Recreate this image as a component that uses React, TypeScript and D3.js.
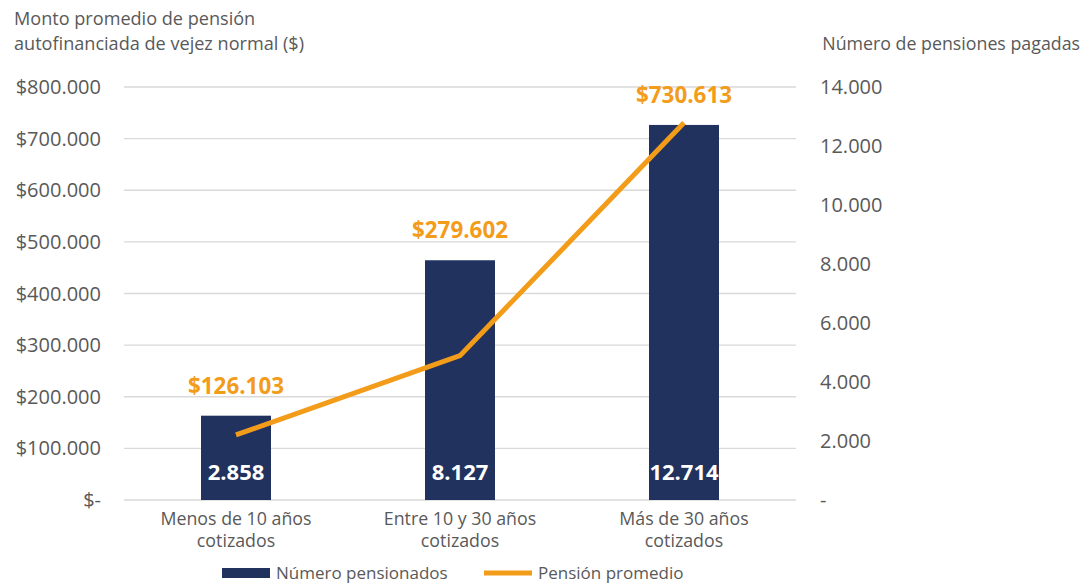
import React from "react";
import * as d3 from "d3";

const categories = [["Menos de 10 años", "cotizados"], ["Entre 10 y 30 años", "cotizados"], ["Más de 30 años", "cotizados"]];
const pensionados = [2858, 8127, 12714];
const pensionPromedio = [126103, 279602, 730613];
const leftTicks = [0, 100000, 200000, 300000, 400000, 500000, 600000, 700000, 800000];
const rightTicks = [0, 2000, 4000, 6000, 8000, 10000, 12000, 14000];

const W = 1085, H = 583;
const left = 124, right = 796, top = 87, bottom = 500;
const FONT = "'Open Sans', 'Noto Sans', sans-serif";
const GREY = "#595959";
const NAVY = "#22325f";
const ORANGE = "#f39c1a";

const fmt = (v: number) => v.toLocaleString("de-DE");

export default function App() {
  const x = d3.scaleBand<number>().domain(d3.range(categories.length)).range([left, right]).paddingInner(0.6875).paddingOuter(0.34375);
  const yL = d3.scaleLinear().domain([0, 800000]).range([bottom, top]);
  const yR = d3.scaleLinear().domain([0, 14000]).range([bottom, top]);
  const cx = (i: number) => (x(i) as number) + x.bandwidth() / 2;
  const line = d3.line<number>().x((_, i) => cx(i)).y((d) => yL(d));

  return (
    <svg width={W} height={H} style={{ position: "absolute", left: 0, top: 0, fontFamily: FONT }}>
      <rect width={W} height={H} fill="#fff" />
      <text x={14} y={25} fontSize={18.1} fill={GREY}>Monto promedio de pensión</text>
      <text x={14} y={50} fontSize={18.1} fill={GREY}>autofinanciada de vejez normal ($)</text>
      <text x={1080} y={50} fontSize={17.8} fill={GREY} textAnchor="end">Número de pensiones pagadas</text>
      {leftTicks.map((t) => (
        <g key={t}>
          <line x1={left} x2={right} y1={yL(t)} y2={yL(t)} stroke="#d9d9d9" strokeWidth={1.3} />
          <text x={101} y={yL(t) + 7} fontSize={20} fill={GREY} textAnchor="end">{t === 0 ? "$-" : "$" + fmt(t)}</text>
        </g>
      ))}
      {rightTicks.map((t) => (
        <text key={t} x={820} y={yR(t) + 7} fontSize={20} fill={GREY}>{t === 0 ? "-" : fmt(t)}</text>
      ))}
      {pensionados.map((v, i) => (
        <g key={i}>
          <rect x={x(i)} y={yR(v)} width={x.bandwidth()} height={bottom - yR(v)} fill={NAVY} />
          <text x={cx(i)} y={480} fontSize={22} fontWeight="bold" fill="#fff" textAnchor="middle">{fmt(v)}</text>
          <text x={cx(i)} y={yR(v) - 22} fontSize={22.4} fontWeight="bold" fill={ORANGE} textAnchor="middle">{"$" + fmt(pensionPromedio[i])}</text>
          {categories[i].map((l, j) => (
            <text key={j} x={cx(i)} y={525 + j * 22} fontSize={17.8} fill={GREY} textAnchor="middle">{l}</text>
          ))}
        </g>
      ))}
      <path d={line(pensionPromedio) || ""} fill="none" stroke={ORANGE} strokeWidth={5} />
      <rect x={222} y={568} width={48} height={10} fill={NAVY} />
      <text x={276} y={579} fontSize={17} fill={GREY}>Número pensionados</text>
      <line x1={484} x2={532} y1={573} y2={573} stroke={ORANGE} strokeWidth={5} />
      <text x={538} y={579} fontSize={17} fill={GREY}>Pensión promedio</text>
    </svg>
  );
}
